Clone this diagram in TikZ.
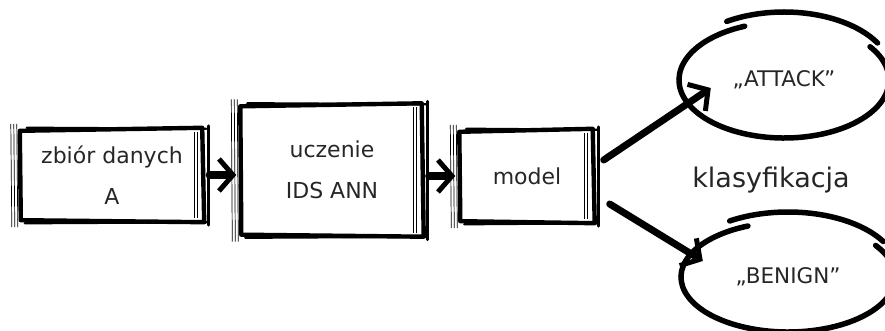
\documentclass[tikz,border=0pt]{standalone}
\usepackage{fontspec}
\setmainfont{DejaVu Sans}
\usetikzlibrary{arrows.meta,calc,shapes.geometric}

\tikzset{
  boxnode/.style={rectangle, draw=none, inner sep=0pt, align=center,
    text=black!85, font=\fontsize{22}{41}\selectfont},
  heavy edge/.style={line width=4.4pt, line join=round, line cap=round},
  hair edge/.style={line width=0.7pt},
  flow/.style={line width=7pt, line cap=round,
    -{Straight Barb[line width=5pt, length=14pt, width=32pt]}},
  cloud/.style={ellipse, draw=none, inner sep=0pt, text=black!85,
    font=\fontsize{21.5}{24}\selectfont},
  cloud stroke/.style={line width=5.5pt, line cap=round},
}

% hand-drawn frame around a rectangular node
\newcommand\roughbox[1]{%
  \draw[heavy edge] ($(#1.north west)+(1,2)$) -- ($(#1.north east)+(-3,-1)$)
    -- ($(#1.south east)+(-1,1)$) -- ($(#1.south west)+(2,-1)$) -- cycle;
  \draw[line width=2.4pt, line cap=round] ($(#1.north west)+(8,-1)$) -- ($(#1.north east)+(1,0)$);
  \draw[line width=2.4pt, line cap=round] ($(#1.south west)+(6,2)$) -- ($(#1.south east)+(2,1)$);
  \foreach \d in {-8,-5,-2} {
    \draw[hair edge] ($(#1.north west)+(\d,-5)$) -- ($(#1.south west)+(\d+1,6)$);
  }
  \foreach \d in {-11,-8} {
    \draw[hair edge] ($(#1.north east)+(\d,3)$) -- ($(#1.south east)+(\d,-3)$);
  }
  \draw[line width=3pt, line cap=round] ($(#1.north east)+(3,-3)$) -- ($(#1.south east)+(3,4)$);
}

% sketched ellipse outline (radii in pt, canvas angles)
\newcommand\roughcloud[3]{%
  \draw[cloud stroke] ($(#1.center)+(112:#2pt and #3pt)$)
    arc[start angle=112, end angle=395, x radius=#2pt, y radius=#3pt];
  \draw[cloud stroke] ($(#1.center)+(0,-6)+(30:#2pt+3pt and #3pt+4pt)$)
    arc[start angle=30, end angle=122, x radius=#2pt+3pt, y radius=#3pt+4pt];
}

\begin{document}
\begin{tikzpicture}[x=1pt,y=-1pt]
  \useasboundingbox (0,0) rectangle (885,331);

  % processing chain
  \node[boxnode, minimum width=186, minimum height=92] (data) at (112,175)
    {zbiór danych\\A};
  \node[boxnode, minimum width=185, minimum height=131] (train) at (332,170)
    {uczenie\\IDS ANN};
  \node[boxnode, minimum width=137, minimum height=92] (model) at (527,176)
    {model};

  \roughbox{data}
  \roughbox{train}
  \roughbox{model}

  % classification outcomes
  \node[cloud, minimum width=210, minimum height=116] (attack) at (784,80)
    {„ATTACK”};
  \node[cloud, minimum width=214, minimum height=110] (benign) at (788,277)
    {„BENIGN”};
  \roughcloud{attack}{105}{58}
  \roughcloud{benign}{107}{55}

  \node[text=black!85, font=\fontsize{27}{32}\selectfont] (cls) at (771,180)
    {klasyfikacja};

  % connectors
  \draw[flow, shorten <=4pt, shorten >=3pt] (data.east) -- (data.east -| train.west);
  \draw[flow, shorten <=4pt, shorten >=3pt] (model.west -| train.east) -- (model.west);
  \coordinate (up)   at ($(model.east)+(8,-16)$);
  \coordinate (down) at ($(model.east)+(14,28)$);
  \draw[flow] (up) -- ($(attack.west)+(32,8)$);
  \draw[flow] (down) -- ($(benign.west)+(22,-16)$);
\end{tikzpicture}
\end{document}
